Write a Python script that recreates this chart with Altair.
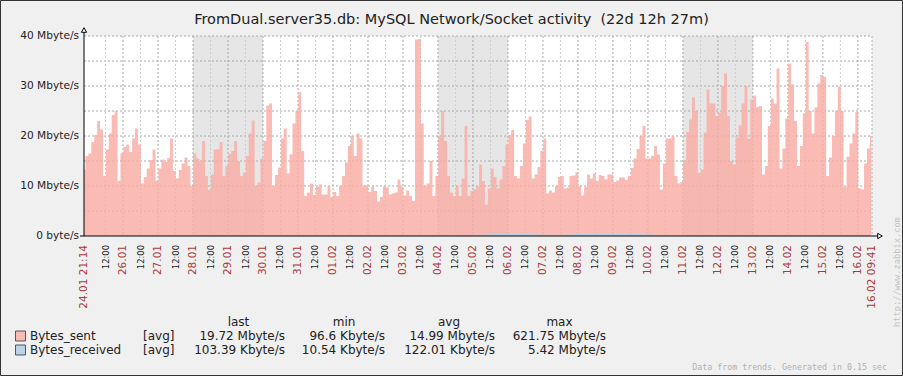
import altair as alt
import pandas as pd

# ---------------- data ----------------
title_text = "FromDual.server35.db: MySQL Network/Socket activity\u00a0 (22d 12h 27m)"
start_time = "2012-01-24 21:14"
end_time = "2012-02-16 09:41"
start_label = "24.01 21:14"
end_label = "16.02 09:41"

sent_step_hours = 2
bytes_sent_mb = [
    13.3, 16, 16.5, 18.8, 20.2, 23, 21.3, 12, 17.3, 20.5,
    24.2, 25, 11, 16.5, 17.8, 18.3, 16.8, 19.5, 21.5, 18.3,
    10.5, 11.8, 13.5, 15.2, 17.3, 11, 13.5, 15.3, 14.8, 15.6,
    19.5, 13, 11.5, 13.2, 14.5, 15.7, 14, 10, 16.5, 15.5,
    15, 19, 12, 9.2, 12.3, 17.3,
    17.3, 18.8, 12, 14, 16.4, 17, 19, 15, 12, 12.7,
    16, 20.5, 23.1, 10, 10.7, 15.5, 19, 26.1, 26.5, 10,
    12.2, 13.7, 19.5, 21.5, 12.5, 16.3, 22.5, 25, 28.8, 17,
    8, 8.7, 10.5, 8.2, 9.8, 10.3, 8.3, 8.3, 10, 7.8,
    8.8, 8, 10, 12, 14.7,
    18, 20.1, 16, 20.5, 19.5, 10.1, 10.1, 8.8, 9.8, 9,
    6.9, 7.8, 9.9, 9.7, 8.3, 8.5, 8.7, 11.3, 9.8, 8.1,
    9.1, 8, 7, 39.3, 39.4, 22.5, 10, 10.5, 15, 8,
    12, 20, 25, 19, 12, 8.7, 8, 10, 8, 11.5,
    22, 8, 9, 9.3, 9.9,
    14.3, 11, 6.3, 9.5, 13.5, 11.8, 9.5, 11.3, 14, 18.3,
    20.2, 21.2, 12, 11.5, 14, 18.5, 23.2, 23.9, 11.5, 12.3,
    13.8, 17, 19.5, 8.5, 9.1, 8.7, 10, 11.8, 12, 9.5,
    9.7, 12, 12.1, 12.7, 10, 8.1, 9.8, 12.3, 11.5, 12.5,
    11, 12.2, 12, 11.3, 12.3, 12.3,
    10.8, 11.1, 11.7, 11.7, 11.2, 12, 13.6, 15.5, 17.4, 20,
    22, 15.5, 15.5, 16, 18, 16.3, 9.3, 14.5, 19.5, 19.5,
    20, 12, 10.5, 10.8, 15, 20.8, 23.3, 27.7, 25, 12.6,
    13.3, 20.7, 29.3, 26.5, 26.5, 24, 24.7, 30, 32.5, 24,
    15, 14.3, 19.7, 22.1, 26.5,
    30, 19.5, 27.3, 28.1, 25.8, 26, 12.3, 14, 22, 27.5,
    26.5, 33.5, 13.5, 17.5, 23.5, 34.5, 30.3, 23, 14, 18,
    24.5, 38.8, 25, 20.5, 25.7, 30.5, 32.2, 31.8, 12, 15.7,
    20, 25, 29.9, 25, 9.8, 15.9, 18.5, 20.5, 24.8, 9.5,
    9.3, 14.5, 17.5, 20,
]

received_step_hours = 12
bytes_received_mb = [
    0.15, 0.12, 0.15, 0.12, 0.15, 0.12, 0.1, 0.1, 0.12, 0.15,
    0.12, 0.1, 0.12, 0.1, 0.1, 0.12, 0.1, 0.1, 0.12, 0.1,
    0.12, 0.15, 0.2, 0.3, 0.5, 0.45, 0.3, 0.2, 0.35, 0.5,
    0.45, 0.4, 0.35, 0.2, 0.15, 0.12, 0.15, 0.12, 0.15, 0.12,
    0.12, 0.1, 0.12, 0.1, 0.12, 0.1,
]

weekend_starts = ["2012-01-28", "2012-02-04", "2012-02-11"]
weekend_ends = ["2012-01-30", "2012-02-06", "2012-02-13"]

first_grid = "2012-01-25 12:00"
last_grid = "2012-02-16 00:00"

y_ticks = [0, 10, 20, 30, 40]
y_tick_labels = ["0 byte/s", "10 Mbyte/s", "20 Mbyte/s", "30 Mbyte/s", "40 Mbyte/s"]
y_grid = [5, 10, 15, 20, 25, 30, 35, 40]

legend_names = ["Bytes_sent", "Bytes_received"]
legend_func = ["[avg]", "[avg]"]
legend_headers = ["last", "min", "avg", "max"]
legend_last = ["19.72 Mbyte/s", "103.39 Kbyte/s"]
legend_min = ["96.6 Kbyte/s", "10.54 Kbyte/s"]
legend_avg = ["14.99 Mbyte/s", "122.01 Kbyte/s"]
legend_max = ["621.75 Mbyte/s", "5.42 Mbyte/s"]
legend_colors = ["#FABBB5", "#BCD2E8"]

footer_text = "Data from trends. Generated in 0.15 sec"
watermark_text = "http://www.zabbix.com"

# ---------------- derived tables ----------------
W, H = 788, 200
t0 = pd.Timestamp(start_time)
t1 = pd.Timestamp(end_time)
HOUR = pd.Timedelta(hours=1)
span = (t1 - t0) / HOUR

sent_df = pd.DataFrame({
    "h": [i * sent_step_hours for i in range(len(bytes_sent_mb))],
    "v": bytes_sent_mb,
})
recv_df = pd.DataFrame({
    "h": [min(i * received_step_hours, span) for i in range(len(bytes_received_mb))],
    "v": bytes_received_mb,
})
wk_df = pd.DataFrame({
    "ws": [(pd.Timestamp(s) - t0) / HOUR for s in weekend_starts],
    "we": [(pd.Timestamp(e) - t0) / HOUR for e in weekend_ends],
})
grid_times = pd.date_range(first_grid, last_grid, freq="12h")
tick_df = pd.DataFrame({
    "h": [(t - t0) / HOUR for t in grid_times],
    "kind": ["noon" if t.hour == 12 else "day" for t in grid_times],
    "lab": ["12:00" if t.hour == 12 else t.strftime("%d.%m") for t in grid_times],
})
edge_df = pd.DataFrame({"h": [0, span], "lab": [start_label, end_label]})
ygrid_df = pd.DataFrame({"g": y_grid})
ylab_df = pd.DataFrame({"v": y_ticks, "lab": y_tick_labels})

xs = alt.Scale(domain=[0, span], nice=False, zero=False)
ys = alt.Scale(domain=[0, 40], nice=False, zero=True)
FONT = "DejaVu Sans"
one = pd.DataFrame({"a": [0]})


def txt(s, x, y, size=12, align="left", color="#222222", font=FONT, angle=0, baseline="middle"):
    kw = dict(align=align, baseline=baseline, fontSize=size, font=font, color=color)
    if angle:
        kw["angle"] = angle
    return alt.Chart(pd.DataFrame({"t": [s]})).mark_text(**kw).encode(
        x=alt.value(x), y=alt.value(y), text="t:N"
    )


layers = []
# plot background
layers.append(alt.Chart(one).mark_rect(color="white").encode(
    x=alt.value(0), x2=alt.value(W), y=alt.value(0), y2=alt.value(H)))
# weekend shading
layers.append(alt.Chart(wk_df).mark_rect(color="#e6e6e6").encode(
    x=alt.X("ws:Q", scale=xs, axis=None), x2="we:Q", y=alt.value(0), y2=alt.value(H)))
# horizontal grid
layers.append(alt.Chart(ygrid_df).mark_rule(color="#a8a8a8", strokeDash=[2, 2]).encode(
    y=alt.Y("g:Q", scale=ys, axis=None), x=alt.value(0), x2=alt.value(W)))
# vertical grid
layers.append(alt.Chart(tick_df).mark_rule(strokeDash=[2, 2]).encode(
    x=alt.X("h:Q", scale=xs, axis=None), y=alt.value(0), y2=alt.value(H),
    color=alt.Color("kind:N", scale=alt.Scale(domain=["day", "noon"], range=["#a8a8a8", "#cdcdcd"]), legend=None)))
# right border
layers.append(alt.Chart(one).mark_rule(color="#b0b0b0", strokeDash=[2, 2]).encode(
    x=alt.value(W), y=alt.value(0), y2=alt.value(H)))
# series
layers.append(alt.Chart(sent_df).mark_area(color="#F9ACA5", opacity=0.82, interpolate="step").encode(
    x=alt.X("h:Q", scale=xs, axis=None), y=alt.Y("v:Q", scale=ys, axis=None)))
layers.append(alt.Chart(recv_df).mark_area(color="#BCD2E8", opacity=1, interpolate="linear").encode(
    x=alt.X("h:Q", scale=xs, axis=None), y=alt.Y("v:Q", scale=ys, axis=None)))
# axes lines
layers.append(alt.Chart(one).mark_rule(color="black").encode(
    x=alt.value(0), y=alt.value(-4), y2=alt.value(H)))
layers.append(alt.Chart(one).mark_rule(color="black").encode(
    x=alt.value(-4), x2=alt.value(794), y=alt.value(H)))
layers.append(alt.Chart(one).mark_point(shape="triangle-up", filled=True, fill="white", stroke="black",
                                        strokeWidth=1, size=28, opacity=1).encode(
    x=alt.value(0), y=alt.value(-6)))
layers.append(alt.Chart(one).mark_point(shape="triangle-right", filled=True, fill="white", stroke="black",
                                        strokeWidth=1, size=28, opacity=1).encode(
    x=alt.value(796), y=alt.value(H)))
# y labels
layers.append(alt.Chart(ylab_df).mark_text(align="right", baseline="middle", fontSize=10.6, font=FONT,
                                           color="#222222").encode(
    x=alt.value(-5), y=alt.Y("v:Q", scale=ys, axis=None), text="lab:N"))
# x labels
layers.append(alt.Chart(tick_df).transform_filter("datum.kind == 'day'").mark_text(
    angle=270, align="right", baseline="middle", fontSize=10.5, font=FONT, color="#a83a3a").encode(
    x=alt.X("h:Q", scale=xs, axis=None), y=alt.value(209), text="lab:N"))
layers.append(alt.Chart(tick_df).transform_filter("datum.kind == 'noon'").mark_text(
    angle=270, align="right", baseline="middle", fontSize=8.4, font=FONT, color="#222222").encode(
    x=alt.X("h:Q", scale=xs, axis=None), y=alt.value(209), text="lab:N"))
layers.append(alt.Chart(edge_df).mark_text(
    angle=270, align="right", baseline="middle", fontSize=10.5, font=FONT, color="#a83a3a").encode(
    x=alt.X("h:Q", scale=xs, axis=None), y=alt.value(209), text="lab:N"))
# title
layers.append(txt(title_text, 367.5, -16.5, size=14.5, align="center"))
# legend
header_x = [154.5, 260, 365, 475.5]
for hx, hs in zip(header_x, legend_headers):
    layers.append(txt(hs, hx, 286, align="center"))
row_y = [300, 314]
col_right = [201, 301, 411, 522]
for r in range(len(legend_names)):
    yy = row_y[r]
    layers.append(alt.Chart(one).mark_rect(color=legend_colors[r], stroke="#555555", strokeWidth=1).encode(
        x=alt.value(-68.5), x2=alt.value(-58.5), y=alt.value(yy - 5), y2=alt.value(yy + 5)))
    layers.append(txt(legend_names[r], -54, yy))
    layers.append(txt(legend_func[r], 59, yy))
    vals = [legend_last[r], legend_min[r], legend_avg[r], legend_max[r]]
    for cx, vs in zip(col_right, vals):
        layers.append(txt(vs, cx, yy, align="right"))
# footer + watermark
layers.append(txt(footer_text, 803, 332, size=8.3, align="right", color="#b0b0b0", font="DejaVu Sans Mono"))
layers.append(txt(watermark_text, 813, 291, size=8.7, align="left", color="#c4c4c4",
                  font="DejaVu Sans Mono", angle=270))
# outer border
layers.append(alt.Chart(one).mark_rect(fill=None, fillOpacity=0, stroke="#333333", strokeWidth=1).encode(
    x=alt.value(-83.5), x2=alt.value(818.5), y=alt.value(-35.5), y2=alt.value(339.5)))

chart = alt.layer(*layers).properties(
    width=W, height=H,
    autosize=alt.AutoSizeParams(type="none"),
    padding={"left": 84, "top": 36, "right": 31, "bottom": 140},
    background="#f0f0f0",
).configure_view(stroke=None)

chart.save("out.html", embed_options={"renderer": "svg", "actions": False})
